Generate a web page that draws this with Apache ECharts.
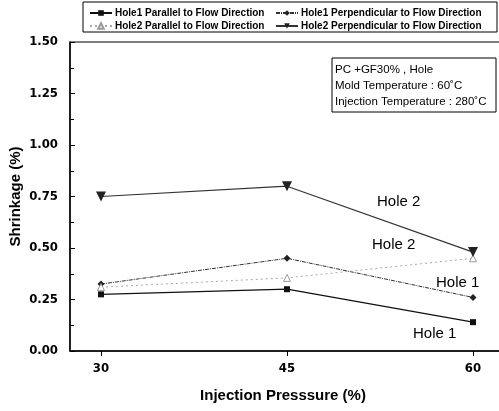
<!DOCTYPE html>
<html>
<head>
<meta charset="utf-8">
<script src="https://cdn.jsdelivr.net/npm/echarts@6/dist/echarts.min.js"></script>
<style>
  html, body { margin: 0; padding: 0; background: #fff; }
  #chart { width: 499px; height: 411px; }
</style>
</head>
<body>
<div id="chart"></div>
<script>
// injection pressure (%)
const pressures = [30, 45, 60]
const xTicks = [30, 45, 60]
const yTicks = [0, 0.25, 0.5, 0.75, 1.0, 1.25, 1.5]

// shrinkage (%)
const hole1Parallel = [0.275, 0.30, 0.14]
const hole1Perp = [0.325, 0.45, 0.26]
const hole2Parallel = [0.31, 0.355, 0.45]
const hole2Perp = [0.75, 0.80, 0.48]

const names = [
    'Hole1 Parallel to Flow Direction',
    'Hole1 Perpendicular to Flow Direction',
    'Hole2 Parallel to Flow Direction',
    'Hole2 Perpendicular to Flow Direction'
]

const narrow = '"Liberation Sans Narrow", "DejaVu Sans Condensed", Arial, sans-serif'
const sans = '"Liberation Sans", Arial, sans-serif'

const pairs = vals => pressures.map((p, i) => [p, vals[i]])

const chart = echarts.init(document.getElementById('chart'))

let legendText = { fontFamily: sans, fontWeight: 'bold', fontSize: 10, color: '#000', padding: [0, 0, 0, -2] }

let option = {
    backgroundColor: '#fff',
    animation: false,
    grid: {
        show: true,
        left: 70,
        width: 434,
        top: 42,
        bottom: 60,
        outerBoundsMode: 'none',
        containLabel: false,
        borderColor: '#000',
        borderWidth: 1
    },
    legend: [
        {
            left: 84,
            top: 3,
            orient: 'vertical',
            itemGap: 3,
            itemWidth: 22,
            itemHeight: 7,
            data: [names[0], names[2]],
            textStyle: legendText
        },
        {
            left: 270,
            top: 3,
            orient: 'vertical',
            itemGap: 3,
            itemWidth: 22,
            itemHeight: 7,
            data: [names[1], names[3]],
            textStyle: legendText
        }
    ],
    xAxis: {
        type: 'value',
        min: 27.5,
        max: 62.5,
        name: 'Injection Presssure (%)',
        nameLocation: 'middle',
        nameGap: 37,
        nameMoveOverlap: false,
        nameTextStyle: { fontFamily: sans, fontWeight: 'bold', fontSize: 15, color: '#000', padding: [0, 0, 0, -8] },
        axisLine: { lineStyle: { color: '#000', width: 1.5 } },
        axisTick: { show: true, length: 5, customValues: xTicks, lineStyle: { color: '#000' } },
        axisLabel: {
            customValues: xTicks,
            fontFamily: narrow, fontWeight: 'bold', fontSize: 13, color: '#000', margin: 11
        },
        splitLine: { show: false }
    },
    yAxis: {
        type: 'value',
        min: 0,
        max: 1.5,
        interval: 0.25,
        name: 'Shrinkage (%)',
        nameLocation: 'middle',
        nameGap: 47,
        nameMoveOverlap: false,
        nameTextStyle: { fontFamily: sans, fontWeight: 'bold', fontSize: 15, color: '#000' },
        axisLine: { show: true, lineStyle: { color: '#000', width: 1.5 } },
        axisTick: { show: true, inside: true, length: 5, lineStyle: { color: '#000' } },
        minorTick: { show: true, splitNumber: 2, length: 4, lineStyle: { color: '#000' } },
        axisLabel: {
            formatter: v => v.toFixed(2),
            customValues: yTicks,
            fontFamily: narrow, fontWeight: 'bold', fontSize: 13, color: '#000', margin: 12
        },
        splitLine: { show: false }
    },
    series: [
        {
            name: names[0],
            type: 'line',
            data: pairs(hole1Parallel),
            symbol: 'rect',
            symbolSize: 6,
            lineStyle: { color: '#111', width: 1.3 },
            itemStyle: { color: '#111' }
        },
        {
            name: names[1],
            type: 'line',
            data: pairs(hole1Perp),
            symbol: 'diamond',
            symbolSize: 7,
            lineStyle: { color: '#333', width: 1, type: [4, 1, 1, 1] },
            itemStyle: { color: '#222' }
        },
        {
            name: names[2],
            type: 'line',
            data: pairs(hole2Parallel),
            symbol: 'triangle',
            symbolSize: 7,
            lineStyle: { color: '#aaa', width: 1, type: [2, 3] },
            itemStyle: { color: '#fff', borderColor: '#999', borderWidth: 1 }
        },
        {
            name: names[3],
            type: 'line',
            data: pairs(hole2Perp),
            symbol: 'triangle',
            symbolRotate: 180,
            symbolSize: 10,
            lineStyle: { color: '#333', width: 1.2 },
            itemStyle: { color: '#222' }
        }
    ],
    graphic: [
        // legend frame
        {
            type: 'rect',
            shape: { x: 83, y: 2, width: 414, height: 30 },
            style: { fill: 'none', stroke: '#000', lineWidth: 1 },
            z: 100
        },
        // conditions box
        {
            type: 'rect',
            shape: { x: 332, y: 58, width: 164, height: 54 },
            style: { fill: '#fff', stroke: '#000', lineWidth: 1 },
            z: 100
        },
        {
            type: 'text', left: 335, top: 64, z: 101,
            style: { text: 'PC +GF30% , Hole', font: '11.5px ' + sans, fill: '#000' }
        },
        {
            type: 'text', left: 335, top: 80, z: 101,
            style: { text: 'Mold Temperature : 60˚C', font: '11.5px ' + sans, fill: '#000' }
        },
        {
            type: 'text', left: 335, top: 96, z: 101,
            style: { text: 'Injection Temperature : 280˚C', font: '11.5px ' + sans, fill: '#000' }
        },
        // curve annotations
        {
            type: 'text', left: 377, top: 194, z: 101,
            style: { text: 'Hole 2', font: '15px ' + sans, fill: '#000' }
        },
        {
            type: 'text', left: 372, top: 237, z: 101,
            style: { text: 'Hole 2', font: '15px ' + sans, fill: '#000' }
        },
        {
            type: 'text', left: 436, top: 275, z: 101,
            style: { text: 'Hole 1', font: '15px ' + sans, fill: '#000' }
        },
        {
            type: 'text', left: 413, top: 326, z: 101,
            style: { text: 'Hole 1', font: '15px ' + sans, fill: '#000' }
        }
    ]
}

chart.setOption(option)
</script>
</body>
</html>
